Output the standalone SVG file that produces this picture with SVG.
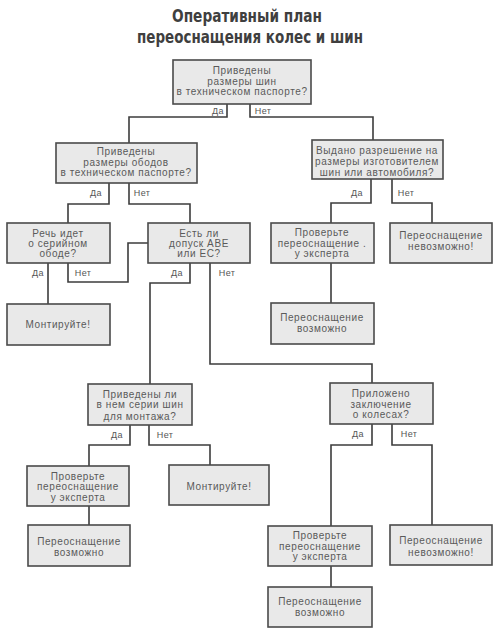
<svg xmlns="http://www.w3.org/2000/svg" width="500" height="644" viewBox="0 0 500 644">
<style>
.bg{fill:#ffffff}
.box rect{fill:#e9e9e9;stroke:#4a4a4a;stroke-width:1.6}
.box text{font-family:"Liberation Sans",Arial,sans-serif;font-size:10px;letter-spacing:0.6px;fill:#5a5a5a;text-anchor:middle}
.title{font-family:"DejaVu Sans",sans-serif;font-weight:bold;font-size:17px;fill:#3f3f3f;text-anchor:middle}
#connectors path{fill:none;stroke:#3c3c3c;stroke-width:1.6}
.lbl{font-family:"Liberation Sans",Arial,sans-serif;font-size:9px;letter-spacing:0.4px;fill:#555;text-anchor:middle}
</style>
<rect class="bg" x="0" y="0" width="500" height="644"/>
<g id="title">
<text class="title" x="247" y="22" textLength="150" lengthAdjust="spacingAndGlyphs">Оперативный план</text>
<text class="title" x="250" y="43" textLength="226" lengthAdjust="spacingAndGlyphs">переоснащения колес и шин</text>
</g>
<g id="connectors">
<path d="M227,104 V117 H129 V143"/>
<path d="M250,104 V117 H373 V140"/>
<path d="M109,183 V204 H68 V223"/>
<path d="M129,183 V204 H190 V223"/>
<path d="M371,179 V203 H331 V223"/>
<path d="M392,179 V203 H432 V223"/>
<path d="M48,263 V304"/>
<path d="M68,263 V282 H128 V243 H148"/>
<path d="M331,263 V303"/>
<path d="M190,263 V283 H150 V384"/>
<path d="M210,263 V364 H372 V383"/>
<path d="M130,425 V445 H89 V466"/>
<path d="M149,425 V445 H210 V465"/>
<path d="M89,506 V525"/>
<path d="M372,424 V445 H331 V526"/>
<path d="M392,424 V445 H432 V525"/>
<path d="M331,566 V587"/>
<text class="lbl" x="218" y="114">Да</text>
<text class="lbl" x="263" y="114">Нет</text>
<text class="lbl" x="96" y="196">Да</text>
<text class="lbl" x="142" y="196">Нет</text>
<text class="lbl" x="357" y="196">Да</text>
<text class="lbl" x="406" y="196">Нет</text>
<text class="lbl" x="38" y="276">Да</text>
<text class="lbl" x="83" y="276">Нет</text>
<text class="lbl" x="177" y="276">Да</text>
<text class="lbl" x="227" y="276">Нет</text>
<text class="lbl" x="117" y="438">Да</text>
<text class="lbl" x="165" y="438">Нет</text>
<text class="lbl" x="358" y="437">Да</text>
<text class="lbl" x="409" y="437">Нет</text>
</g>
<g id="n1" class="box"><rect x="173" y="60" width="138" height="44"/>
<text x="242" y="74">Приведены</text><text x="242" y="85">размеры шин</text><text x="242" y="95">в техническом паспорте?</text></g>
<g id="n2" class="box"><rect x="56" y="143" width="141" height="40"/>
<text x="126" y="155">Приведены</text><text x="126" y="166">размеры ободов</text><text x="126" y="176">в техническом паспорте?</text></g>
<g id="n3" class="box"><rect x="312" y="140" width="131" height="39"/>
<text x="377" y="154">Выдано разрешение на</text><text x="377" y="165">размеры изготовителем</text><text x="377" y="176">шин или автомобиля?</text></g>
<g id="n4" class="box"><rect x="7" y="223" width="103" height="40"/>
<text x="58" y="237">Речь идет</text><text x="58" y="247">о серийном</text><text x="58" y="257">ободе?</text></g>
<g id="n5" class="box"><rect x="148" y="223" width="102" height="40"/>
<text x="199" y="237">Есть ли</text><text x="199" y="247">допуск ABE</text><text x="199" y="257">или EC?</text></g>
<g id="n6" class="box"><rect x="271" y="223" width="103" height="40"/>
<text x="322" y="236">Проверьте</text><text x="322" y="247">переоснащение .</text><text x="322" y="257">у эксперта</text></g>
<g id="n7" class="box"><rect x="390" y="223" width="102" height="40"/>
<text x="441" y="239">Переоснащение</text><text x="441" y="250">невозможно!</text></g>
<g id="n8" class="box"><rect x="7" y="304" width="103" height="41"/>
<text x="58" y="328">Монтируйте!</text></g>
<g id="n9" class="box"><rect x="271" y="303" width="103" height="41"/>
<text x="322" y="321">Переоснащение</text><text x="322" y="332">возможно</text></g>
<g id="n10" class="box"><rect x="88" y="384" width="104" height="41"/>
<text x="140" y="398">Приведены ли</text><text x="140" y="408">в нем серии шин</text><text x="140" y="420">для монтажа?</text></g>
<g id="n11" class="box"><rect x="330" y="383" width="103" height="41"/>
<text x="381" y="397">Приложено</text><text x="381" y="408">заключение</text><text x="381" y="418">о колесах?</text></g>
<g id="n12" class="box"><rect x="27" y="466" width="102" height="40"/>
<text x="78" y="480">Проверьте</text><text x="78" y="490">переоснащение</text><text x="78" y="501">у эксперта</text></g>
<g id="n13" class="box"><rect x="169" y="465" width="100" height="40"/>
<text x="219" y="490">Монтируйте!</text></g>
<g id="n14" class="box"><rect x="28" y="525" width="102" height="41"/>
<text x="79" y="545">Переоснащение</text><text x="79" y="556">возможно</text></g>
<g id="n15" class="box"><rect x="268" y="526" width="104" height="40"/>
<text x="320" y="539">Проверьте</text><text x="320" y="550">переоснащение</text><text x="320" y="560">у эксперта</text></g>
<g id="n16" class="box"><rect x="390" y="525" width="102" height="40"/>
<text x="441" y="544">Переоснащение</text><text x="441" y="556">невозможно!</text></g>
<g id="n17" class="box"><rect x="268" y="587" width="104" height="40"/>
<text x="320" y="605">Переоснащение</text><text x="320" y="616">возможно</text></g>
</svg>
